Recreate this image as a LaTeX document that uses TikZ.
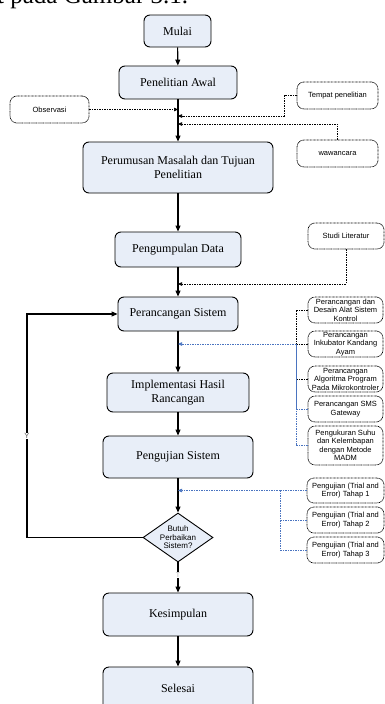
\documentclass[tikz,border=0pt]{standalone}
\usepackage{fontspec}
\setmainfont{Liberation Serif}
\newfontfamily\lblfont{Liberation Sans}
\usetikzlibrary{shapes.geometric,arrows.meta}
\definecolor{boxfill}{HTML}{E8EEF8}
\definecolor{linkblue}{HTML}{4A74C0}

\begin{document}
\begin{tikzpicture}[x=1pt, y=-1pt, every node/.style={align=center},
    mainbox/.style={draw, rounded corners=6pt, fill=boxfill, line width=0.9pt,
        inner sep=1pt, font=\fontsize{12}{14}\selectfont},
    notebox/.style={draw, rounded corners=7pt, fill=white, line width=0.7pt,
        dash pattern=on 0.8pt off 0.6pt, inner sep=1pt,
        font=\lblfont\fontsize{7.5}{8.5}\selectfont},
    flow/.style={-{Triangle[length=6pt,width=5pt]}, line width=1.1pt},
    feed/.style={-{Triangle[length=4pt,width=3.5pt]}, line width=0.7pt,
        dash pattern=on 1.5pt off 1pt},
    bluefeed/.style={feed, color=linkblue}]
    \useasboundingbox (0,0) rectangle (385,704);
    \clip (0,0) rectangle (385,704);

    \node[anchor=base west, inner sep=0pt, font=\fontsize{25}{30}\selectfont] (capt) at (-3,4) {t pada Gambar 3.1.};

    % main flow
    \node[mainbox, minimum width=67pt, minimum height=32pt] (mulai) at (177.5,31) {Mulai};
    \node[mainbox, minimum width=118pt, minimum height=33pt] (awal) at (178,82.5) {Penelitian Awal};
    \node[mainbox, minimum width=190pt, minimum height=51pt] (rumus) at (178,167.5) {Perumusan Masalah dan Tujuan\\Penelitian};
    \node[mainbox, minimum width=126pt, minimum height=35pt] (kumpul) at (178,249.5) {Pengumpulan Data};
    \node[mainbox, minimum width=120pt, minimum height=34pt] (rancang) at (178,314) {Perancangan Sistem};
    \node[mainbox, minimum width=142pt, minimum height=39pt] (impl) at (178,392.5) {Implementasi Hasil\\Rancangan};
    \node[mainbox, minimum width=150pt, minimum height=42pt] (uji) at (178,457) {Pengujian Sistem};
    \node[draw, diamond, fill=boxfill, line width=0.9pt, aspect=1.43, inner sep=0pt,
        minimum width=70pt, minimum height=49pt,
        font=\lblfont\fontsize{8}{8.5}\selectfont] (cek) at (178,537.5) {Butuh\\Perbaikan\\Sistem?};
    \node[mainbox, minimum width=150pt, minimum height=43pt] (simpul) at (178,614.5) {Kesimpulan};
    \node[mainbox, minimum width=150pt, minimum height=43pt] (selesai) at (178,688.5) {Selesai};

    % side notes
    \node[notebox, minimum width=79pt, minimum height=27pt] (obs) at (49.5,109.5) {Observasi};
    \node[notebox, minimum width=81pt, minimum height=27pt] (tempat) at (337.5,95.5) {Tempat penelitian};
    \node[notebox, minimum width=81pt, minimum height=27pt] (wawan) at (337.5,153.5) {wawancara};
    \node[notebox, minimum width=76pt, minimum height=26pt] (studi) at (346,236) {Studi Literatur};

    \node[notebox, minimum width=75pt, minimum height=26pt] (d1) at (345.5,310) {Perancangan dan\\Desain Alat Sistem\\Kontrol};
    \node[notebox, minimum width=75pt, minimum height=26pt] (d2) at (345.5,344) {Perancangan\\Inkubator Kandang\\Ayam};
    \node[notebox, minimum width=75pt, minimum height=26pt] (d3) at (345.5,379) {Perancangan\\Algoritma Program\\Pada Mikrokontroler};
    \node[notebox, minimum width=75pt, minimum height=26pt] (d4) at (345.5,409) {Perancangan SMS\\Gateway};
    \node[notebox, minimum width=75pt, minimum height=39pt] (d5) at (345.5,445.5) {Pengukuran Suhu\\dan Kelembapan\\dengan Metode\\MADM};

    \node[notebox, minimum width=77pt, minimum height=25pt] (t1) at (345.5,490.5) {Pengujian (Trial and\\Error) Tahap 1};
    \node[notebox, minimum width=77pt, minimum height=26pt] (t2) at (345.5,520) {Pengujian (Trial and\\Error) Tahap 2};
    \node[notebox, minimum width=77pt, minimum height=26pt] (t3) at (345.5,550) {Pengujian (Trial and\\Error) Tahap 3};

    % main arrows
    \draw[flow] (mulai) -- (awal);
    \draw[flow] (awal) -- (rumus);
    \draw[flow] (rumus) -- (kumpul);
    \draw[flow] (kumpul) -- (rancang);
    \draw[flow] (rancang) -- (impl);
    \draw[flow] (impl) -- (uji);
    \draw[flow] (uji) -- (cek);
    \draw[flow] (cek) -- (simpul);
    \node[fill=white, inner sep=0.5pt, text=black!30, font=\lblfont\fontsize{7}{8}\selectfont] (tlbl) at (178,575) {T};
    \draw[flow] (simpul) -- (selesai);

    % loop back
    \coordinate (yturn) at (27,537.5);
    \draw[flow] (cek.west) -- (yturn) |- (rancang.west);
    \node[fill=white, inner sep=0.5pt, text=black!65, font=\lblfont\fontsize{7.5}{8}\selectfont] (ylbl) at (27,436) {Y};

    % feeds into the main line
    \draw[feed] (obs.east) -- (obs.east -| awal.south);
    \draw[feed] (tempat.west) -- (284,95.5) |- (awal.south |- 0,116);
    \draw[feed] (wawan.north) |- (awal.south |- 0,124);
    \draw[feed] (studi.south) |- (kumpul.south |- 0,284);

    % design branch
    \coordinate (dj) at (296,344);
    \draw[feed, -] (d1.west) -| (dj);
    \draw[feed, -] (d2.west) -- (dj);
    \draw[feed, -] (d3.west) -| (dj);
    \draw[bluefeed, -] (d4.west) -| (dj);
    \draw[bluefeed, -] (d5.west) -| (dj);
    \draw[bluefeed] (dj) -- (dj -| rancang.south);

    % test branch
    \coordinate (tj) at (280,490.5);
    \draw[bluefeed, -] (t1.west) -- (tj);
    \draw[bluefeed, -] (t2.west) -| (tj);
    \draw[bluefeed, -] (t3.west) -| (tj);
    \draw[bluefeed] (tj) -- (tj -| uji.south);
\end{tikzpicture}
\end{document}
